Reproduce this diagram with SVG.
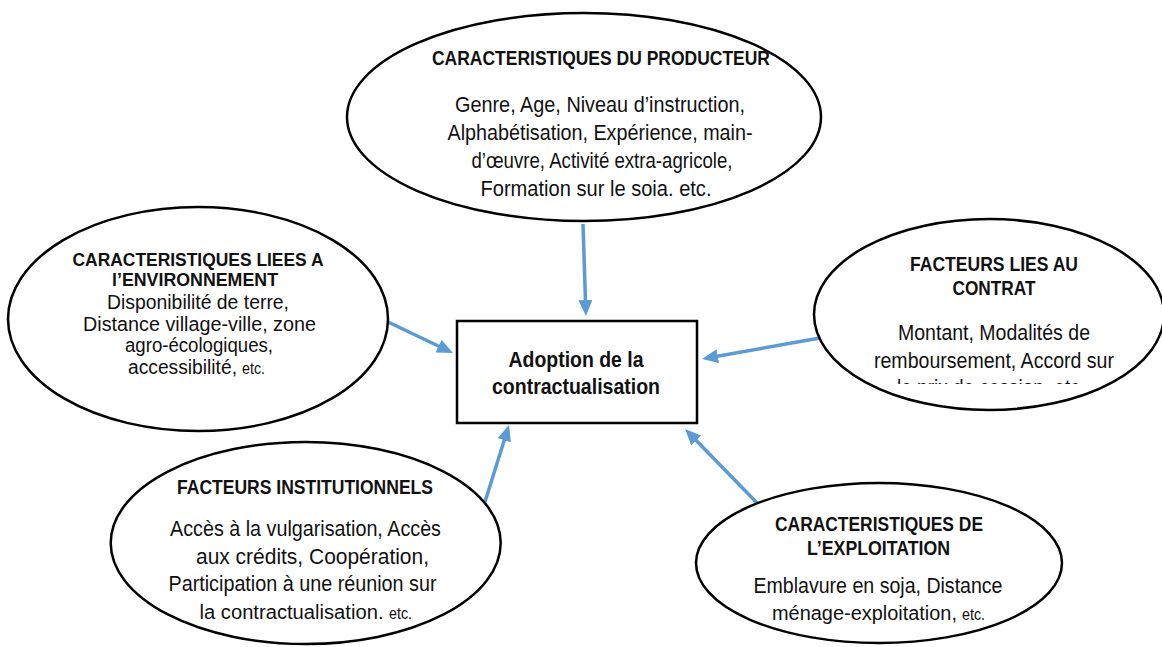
<svg xmlns="http://www.w3.org/2000/svg" width="1162" height="647" viewBox="0 0 1162 647">
<defs>
<style>
.n{fill:#ffffff;stroke:#000000;stroke-width:2.5}
.t{font-family:"Liberation Sans",Arial,sans-serif;font-size:22px;fill:#111111;text-anchor:middle}
.l{font-size:20px}
.h{font-family:"Liberation Sans",Arial,sans-serif;font-size:20px;font-weight:bold;fill:#111111;text-anchor:middle}
.hl{font-size:18.5px}
.b{font-family:"Liberation Sans",Arial,sans-serif;font-size:21.5px;font-weight:bold;fill:#111111;text-anchor:middle}
.st{text-anchor:start}
.s{font-family:"Liberation Sans",Arial,sans-serif;font-size:17px;fill:#111111;text-anchor:start}
.c{fill:none;stroke:#5B9BD5;stroke-width:3.5;marker-end:url(#ah)}
</style>
<marker id="ah" markerUnits="userSpaceOnUse" viewBox="0 0 16 14" markerWidth="16" markerHeight="14" refX="2" refY="7" orient="auto">
<path d="M0,0 L16,7 L0,14 z" fill="#5B9BD5"/>
</marker>
<clipPath id="clipR"><rect x="840" y="360" width="300" height="24"/></clipPath>
</defs>
<rect x="0" y="0" width="1162" height="647" fill="#ffffff"/>
<g id="connectors">
<path class="c" d="M583,224 L585.5,302"/>
<path class="c" d="M386,321 L440.4,347"/>
<path class="c" d="M820,338 L715.8,356.5"/>
<path class="c" d="M484,505 L504.8,438.4"/>
<path class="c" d="M760,506 L694.8,439"/>
</g>
<g id="producteur">
<ellipse class="n" cx="584" cy="117" rx="237" ry="104"/>
<text class="h" x="601" y="65" textLength="338" lengthAdjust="spacingAndGlyphs">CARACTERISTIQUES DU PRODUCTEUR</text>
<text class="t" x="600" y="112" textLength="290" lengthAdjust="spacingAndGlyphs">Genre, Age, Niveau d’instruction,</text>
<text class="t" x="600" y="140" textLength="305" lengthAdjust="spacingAndGlyphs">Alphabétisation, Expérience, main-</text>
<text class="t" x="602" y="168" textLength="261" lengthAdjust="spacingAndGlyphs">d’œuvre, Activité extra-agricole,</text>
<text class="t" x="596" y="196" textLength="231" lengthAdjust="spacingAndGlyphs">Formation sur le soia. etc.</text>
</g>
<g id="environnement">
<ellipse class="n" cx="198" cy="319" rx="190" ry="112"/>
<text class="h hl" x="198" y="266" textLength="251" lengthAdjust="spacingAndGlyphs">CARACTERISTIQUES LIEES A</text>
<text class="h hl" x="195" y="286" textLength="166" lengthAdjust="spacingAndGlyphs">l’ENVIRONNEMENT</text>
<text class="t l" x="198" y="309" textLength="182" lengthAdjust="spacingAndGlyphs">Disponibilité de terre,</text>
<text class="t l" x="199.5" y="331" textLength="233" lengthAdjust="spacingAndGlyphs">Distance village-ville, zone</text>
<text class="t l" x="199" y="352" textLength="148" lengthAdjust="spacingAndGlyphs">agro-écologiques,</text>
<text class="t l st" x="128" y="374" textLength="109" lengthAdjust="spacingAndGlyphs">accessibilité,</text>
<text class="s" x="242" y="374" textLength="23" lengthAdjust="spacingAndGlyphs">etc.</text>
</g>
<g id="contrat">
<ellipse class="n" cx="989" cy="314.5" rx="175" ry="95.5"/>
<text class="h" x="994" y="271" textLength="168" lengthAdjust="spacingAndGlyphs">FACTEURS LIES AU</text>
<text class="h" x="994" y="295" textLength="83" lengthAdjust="spacingAndGlyphs">CONTRAT</text>
<text class="t" x="994" y="340" textLength="192" lengthAdjust="spacingAndGlyphs">Montant, Modalités de</text>
<text class="t" x="994" y="367.5" textLength="240" lengthAdjust="spacingAndGlyphs">remboursement, Accord sur</text>
<text class="t" x="991" y="395" textLength="188" lengthAdjust="spacingAndGlyphs" clip-path="url(#clipR)">le prix de cession, etc.</text>
</g>
<g id="adoption">
<rect x="457" y="321" width="240" height="102" fill="#ffffff" stroke="#000000" stroke-width="2.5"/>
<text class="b" x="576" y="367" textLength="135" lengthAdjust="spacingAndGlyphs">Adoption de la</text>
<text class="b" x="576" y="394" textLength="168" lengthAdjust="spacingAndGlyphs">contractualisation</text>
</g>
<g id="institutionnels">
<ellipse class="n" cx="305.7" cy="543" rx="195" ry="101"/>
<text class="h" x="305" y="494" textLength="256" lengthAdjust="spacingAndGlyphs">FACTEURS INSTITUTIONNELS</text>
<text class="t" x="305.5" y="536" textLength="271" lengthAdjust="spacingAndGlyphs">Accès à la vulgarisation, Accès</text>
<text class="t" x="312.5" y="563.5" textLength="233" lengthAdjust="spacingAndGlyphs">aux crédits, Coopération,</text>
<text class="t" x="302.5" y="591" textLength="268" lengthAdjust="spacingAndGlyphs">Participation à une réunion sur</text>
<text class="t l st" x="199.5" y="619" textLength="184" lengthAdjust="spacingAndGlyphs">la contractualisation.</text>
<text class="s" x="389" y="619" textLength="23" lengthAdjust="spacingAndGlyphs">etc.</text>
</g>
<g id="exploitation">
<ellipse class="n" cx="879" cy="563" rx="183" ry="80"/>
<text class="h" x="879" y="531" textLength="208" lengthAdjust="spacingAndGlyphs">CARACTERISTIQUES DE</text>
<text class="h" x="878.5" y="555" textLength="143" lengthAdjust="spacingAndGlyphs">L’EXPLOITATION</text>
<text class="t" x="878" y="593" textLength="249" lengthAdjust="spacingAndGlyphs">Emblavure en soja, Distance</text>
<text class="t l st" x="772" y="620" textLength="185" lengthAdjust="spacingAndGlyphs">ménage-exploitation,</text>
<text class="s" x="962" y="620" textLength="23" lengthAdjust="spacingAndGlyphs">etc.</text>
</g>
</svg>
